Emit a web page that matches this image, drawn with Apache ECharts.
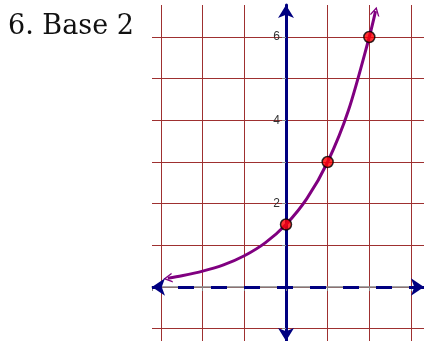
<!DOCTYPE html>
<html>
<head>
<meta charset="UTF-8">
<title>Base 2</title>
<script src="https://cdn.jsdelivr.net/npm/echarts@6/dist/echarts.min.js"></script>
<style>
  html, body { margin: 0; padding: 0; background: #fff; }
  #main { width: 424px; height: 341px; }
</style>
</head>
<body>
<div id="main"></div>
<script type="text/javascript">
    // curve (x, y)
    var curveX = [-2.84, -2.5, -2, -1.5, -1, -0.5, 0, 0.5, 1, 1.5, 2, 2.15];
    var curveY = [0.21, 0.27, 0.38, 0.53, 0.75, 1.06, 1.5, 2.12, 3, 4.24, 6, 6.62];
    // marked points
    var pointX = [0, 1, 2];
    var pointY = [1.5, 3, 6];
    // labelled y ticks
    var yTickLabels = [2, 4, 6];

    var xRange = [-3.217, 3.313];
    var yRange = [-1.296, 6.768];

    var chevron = 'path://M0,10 L6,0 L12,10 L10.2,10 L6,3 L1.8,10 Z';
    var gridRed = '#9e3030';
    var navy = '#000080';

    var curveData = [];
    for (var i = 0; i < curveX.length; i++) {
        curveData.push({ value: [curveX[i], curveY[i]] });
    }
    // arrow heads at both ends of the curve
    curveData[0].symbol = chevron;
    curveData[0].symbolSize = [10, 9];
    curveData[0].symbolRotate = 98;
    curveData[curveData.length - 1].symbol = chevron;
    curveData[curveData.length - 1].symbolSize = [10, 9];
    curveData[curveData.length - 1].symbolRotate = -13;

    var pointData = [];
    for (var j = 0; j < pointX.length; j++) {
        pointData.push([pointX[j], pointY[j]]);
    }

    var myEChart = echarts.init(document.getElementById('main'));
    myEChart.setOption({
        animation: false,
        title: {
            text: '6. Base 2',
            left: 3,
            top: 8,
            textStyle: {
                fontFamily: 'DejaVu Serif',
                fontSize: 27,
                fontWeight: 'normal',
                color: '#111'
            }
        },
        grid: { left: 152, right: 0, top: 5, bottom: 0, containLabel: false },
        xAxis: {
            type: 'value',
            min: xRange[0],
            max: xRange[1],
            minInterval: 1,
            maxInterval: 1,
            position: 'bottom',
            // move the axis up onto y = 0
            offset: -54,
            axisLine: { onZero: false, lineStyle: { color: '#888', width: 1.5 } },
            axisTick: { show: true, length: 4, lineStyle: { color: '#888' } },
            axisLabel: { show: false },
            splitLine: {
                show: true,
                showMinLine: false,
                showMaxLine: false,
                lineStyle: { color: gridRed, width: 1 }
            }
        },
        yAxis: {
            type: 'value',
            min: yRange[0],
            max: yRange[1],
            minInterval: 1,
            maxInterval: 1,
            position: 'left',
            // move the axis right onto x = 0
            offset: -134,
            axisLine: {
                onZero: false,
                symbol: ['arrow', 'arrow'],
                symbolSize: [12, 13],
                lineStyle: { color: navy, width: 3 }
            },
            axisTick: { show: true, length: 4, lineStyle: { color: '#888' } },
            axisLabel: {
                showMinLabel: false,
                showMaxLabel: false,
                margin: 6,
                fontFamily: 'Liberation Sans',
                fontSize: 12,
                color: '#333',
                formatter: function (v) {
                    return yTickLabels.indexOf(v) >= 0 ? String(v) : '';
                }
            },
            splitLine: {
                show: true,
                showMinLine: false,
                showMaxLine: false,
                lineStyle: { color: gridRed, width: 1 }
            }
        },
        series: [
            {
                name: 'curve',
                type: 'line',
                smooth: 0.3,
                symbol: 'none',
                showSymbol: true,
                z: 3,
                data: curveData,
                itemStyle: { color: '#800080' },
                lineStyle: { color: '#800080', width: 3 },
                markLine: {
                    silent: true,
                    z: 5,
                    symbol: ['arrow', 'arrow'],
                    symbolSize: 13,
                    label: { show: false },
                    lineStyle: { color: navy, width: 3, type: [16, 17], dashOffset: 7 },
                    data: [{ yAxis: 0 }]
                }
            },
            {
                name: 'points',
                type: 'scatter',
                z: 6,
                symbol: 'circle',
                symbolSize: 11,
                itemStyle: { color: '#ff0000', borderColor: '#000', borderWidth: 1.5 },
                data: pointData
            }
        ]
    });
</script>
</body>
</html>
